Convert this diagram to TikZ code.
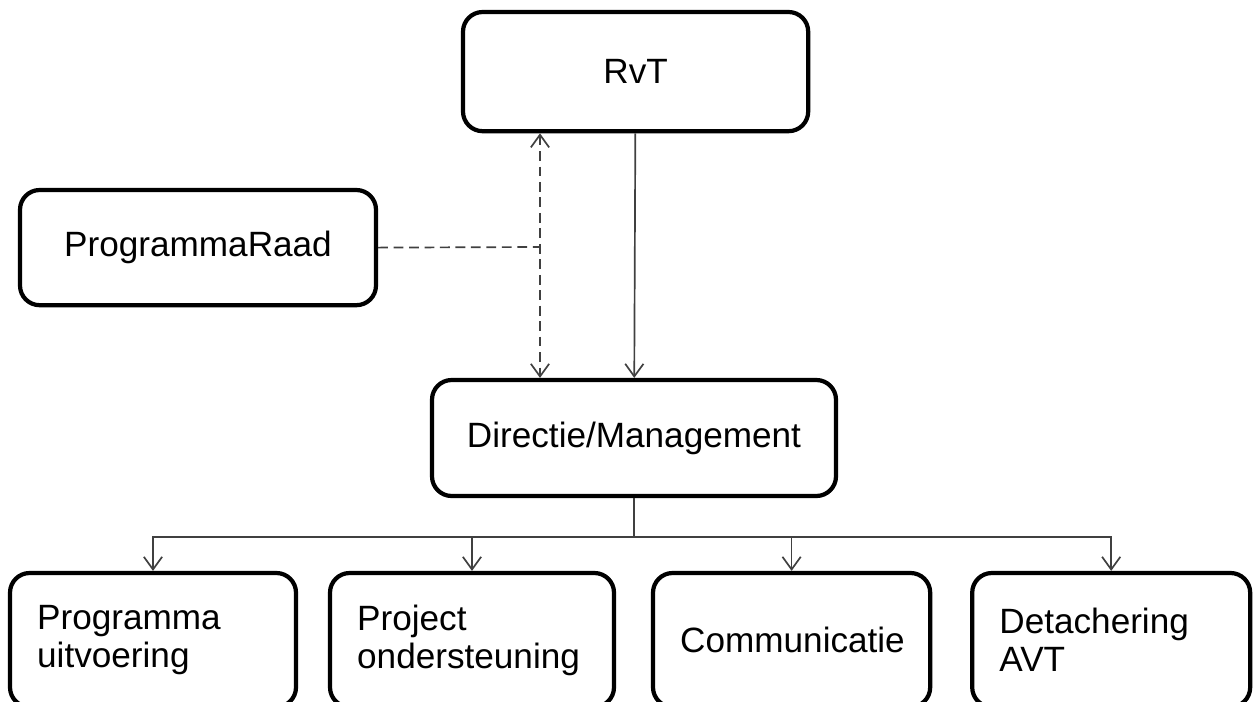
\documentclass[tikz,border=0pt]{standalone}
\usepackage{fontspec}
\setmainfont{Liberation Sans}
\usetikzlibrary{arrows.meta}

\tikzset{
  box/.style={draw, line width=3pt, rounded corners=14pt, fill=white, font=\fontsize{25}{27}\selectfont},
  unit/.style={box, align=left, inner xsep=0.68cm, minimum height=3.35cm},
  link/.style={draw=black!75, line width=1.2pt},
  tip/.style={-{Straight Barb[length=9pt,width=13pt]}},
  dashline/.style={dash pattern=on 7pt off 4pt}
}

\begin{document}
\begin{tikzpicture}
        \useasboundingbox (0,0) rectangle (31.4,-17.55);

        % top of the chart
        \node[box, minimum width=8.63cm, minimum height=2.98cm] (rvt) at (15.89,-1.79) {RvT};
        \node[box, minimum width=8.9cm, minimum height=2.88cm] (raad) at (4.95,-6.19) {ProgrammaRaad};
        \node[box, minimum width=10.1cm, minimum height=2.9cm] (dir) at (15.85,-10.95) {Directie/Management};

        % units
        \node[unit, text width=5.79cm] (uitv) at (3.825,-16.0) {Programma\\uitvoering};
        \node[unit, text width=5.74cm] (proj) at (11.8,-16.0) {Project\\ondersteuning};
        \node[unit, text width=5.57cm, align=center] (comm) at (19.79,-16.0) {Communicatie};
        \node[unit, text width=5.59cm] (detach) at (27.78,-16.0) {Detachering\\AVT};

        \coordinate (join) at (13.5,-6.175);
        \coordinate (bus) at (15.85,-13.425);

        \draw[link, tip] (rvt) -- (dir);
        \draw[link, dashline, {Straight Barb[length=9pt,width=13pt]}-{Straight Barb[length=9pt,width=13pt]}]
            (rvt.south -| join) -- (dir.north -| join);
        \draw[link, dashline] (raad.east) -- (join);

        \draw[link] (dir.south) -- (bus);
        \foreach \unitname in {uitv, proj, comm, detach}
            \draw[link, tip] (bus) -| (\unitname.north);
\end{tikzpicture}
\end{document}
